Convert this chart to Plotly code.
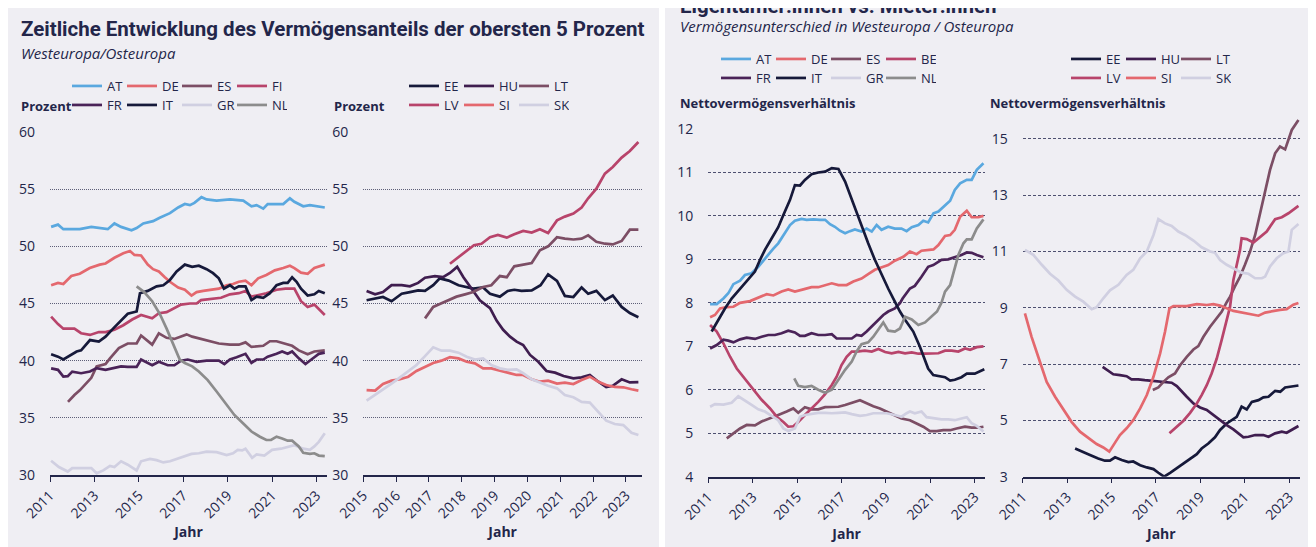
import plotly.graph_objects as go

# page body adds an 8 px margin, so the figure is laid out 8 px up/left of the reference pixels
OFF = 8
W, H = 1316 - OFF, 547 - OFF

# ---------------- data: top 5% wealth share (West, 2011-2023) ----------------
S_AT = [(2011.05,51.7),(2011.36,51.9),(2011.6,51.5),(2012.34,51.5),(2012.86,51.7),(2013.6,51.5),(2013.9,52.0),(2014.2,51.7),(2014.67,51.4),(2014.9,51.6),(2015.2,52.0),(2015.64,52.2),(2015.94,52.5),(2016.4,52.9),(2016.77,53.4),(2017.07,53.7),(2017.3,53.6),(2017.5,53.8),(2017.82,54.3),(2018.05,54.1),(2018.5,54.0),(2019.1,54.1),(2019.7,54.0),(2020.07,53.5),(2020.3,53.6),(2020.6,53.3),(2020.8,53.7),(2021.5,53.7),(2021.8,54.2),(2022.0,53.9),(2022.4,53.5),(2022.7,53.6),(2023.37,53.4)]
S_DE = [(2011.05,46.6),(2011.36,46.8),(2011.6,46.7),(2011.96,47.4),(2012.34,47.6),(2012.79,48.1),(2013.24,48.4),(2013.5,48.5),(2013.9,49.0),(2014.3,49.4),(2014.6,49.6),(2014.8,49.25),(2015.1,49.2),(2015.4,48.4),(2015.64,48.0),(2015.9,47.8),(2016.17,47.3),(2016.4,46.9),(2016.77,46.4),(2017.07,46.2),(2017.37,45.7),(2017.6,46.0),(2017.9,46.1),(2018.34,46.2),(2018.6,46.3),(2018.95,46.6),(2019.24,46.7),(2019.5,46.9),(2019.8,47.0),(2020.07,46.6),(2020.37,47.2),(2020.74,47.5),(2021.12,47.9),(2021.5,48.1),(2021.8,48.3),(2022.0,48.1),(2022.3,47.7),(2022.6,47.6),(2022.9,48.1),(2023.37,48.4)]
S_ES = [(2011.81,36.4),(2012.1,37.0),(2012.34,37.4),(2012.6,38.0),(2012.86,38.5),(2013.1,39.5),(2013.5,39.7),(2013.7,40.2),(2014.1,41.1),(2014.5,41.5),(2014.9,41.5),(2015.1,42.2),(2015.6,41.4),(2015.9,42.4),(2016.25,42.0),(2016.6,41.9),(2016.9,42.1),(2017.15,42.3),(2017.4,42.1),(2018.05,41.8),(2018.6,41.5),(2019.1,41.4),(2019.5,41.4),(2019.8,41.6),(2020.07,41.2),(2020.6,41.3),(2020.9,41.7),(2021.2,41.7),(2021.5,41.5),(2021.9,41.3),(2022.2,40.9),(2022.6,40.56),(2022.9,40.8),(2023.37,40.9)]
S_FI = [(2011.05,43.85),(2011.36,43.2),(2011.6,42.8),(2012.1,42.8),(2012.4,42.4),(2012.8,42.25),(2013.2,42.5),(2013.5,42.5),(2013.9,42.7),(2014.3,43.1),(2014.7,43.6),(2015.1,44.0),(2015.6,43.7),(2015.9,44.15),(2016.25,44.25),(2016.6,44.6),(2016.9,44.9),(2017.3,45.0),(2017.6,45.0),(2017.8,45.3),(2018.34,45.4),(2018.7,45.5),(2019.1,45.8),(2019.5,45.9),(2019.8,46.1),(2020.07,45.6),(2020.74,45.9),(2021.2,46.2),(2021.6,46.3),(2022.0,46.3),(2022.3,45.2),(2022.6,44.7),(2022.9,44.9),(2023.37,44.0)]
S_FR = [(2011.05,39.33),(2011.36,39.2),(2011.6,38.6),(2011.8,38.65),(2012.0,39.04),(2012.4,38.9),(2012.8,39.05),(2013.1,39.35),(2013.5,39.2),(2013.85,39.35),(2014.2,39.5),(2014.5,39.45),(2014.9,39.45),(2015.1,40.1),(2015.6,39.6),(2015.9,39.9),(2016.3,39.6),(2016.6,39.6),(2016.9,40.0),(2017.2,40.1),(2017.6,39.9),(2018.05,40.0),(2018.6,40.0),(2018.85,39.7),(2019.1,40.1),(2019.4,40.3),(2019.8,40.6),(2020.07,39.8),(2020.3,40.1),(2020.6,40.1),(2020.8,40.35),(2021.2,40.6),(2021.45,40.8),(2021.7,40.6),(2021.9,40.8),(2022.2,40.2),(2022.5,39.7),(2022.9,40.3),(2023.1,40.6),(2023.37,40.7)]
S_IT = [(2011.05,40.56),(2011.36,40.35),(2011.6,40.1),(2011.96,40.5),(2012.2,40.8),(2012.4,40.9),(2012.8,41.8),(2013.2,41.66),(2013.5,42.1),(2013.84,42.8),(2014.2,43.56),(2014.5,44.1),(2014.9,44.3),(2015.05,45.9),(2015.4,46.1),(2015.8,46.5),(2016.1,46.6),(2016.4,47.06),(2016.7,47.8),(2017.07,48.4),(2017.4,48.2),(2017.7,48.3),(2018.05,48.0),(2018.34,47.65),(2018.6,47.2),(2018.83,46.3),(2019.1,46.6),(2019.3,46.3),(2019.5,46.5),(2019.8,46.5),(2020.07,45.3),(2020.3,45.6),(2020.6,45.5),(2020.9,45.9),(2021.2,46.6),(2021.5,46.8),(2021.7,46.8),(2021.9,47.3),(2022.1,46.9),(2022.3,46.3),(2022.6,45.7),(2022.9,45.8),(2023.1,46.1),(2023.37,45.9)]
S_GR = [(2011.05,31.25),(2011.4,30.7),(2011.8,30.3),(2012.0,30.6),(2012.86,30.6),(2013.1,30.15),(2013.4,30.4),(2013.7,30.8),(2013.9,30.7),(2014.2,31.2),(2014.5,30.9),(2014.9,30.4),(2015.1,31.2),(2015.5,31.4),(2015.8,31.3),(2016.1,31.1),(2016.4,31.2),(2016.7,31.4),(2017.07,31.6),(2017.37,31.85),(2017.7,31.9),(2018.05,32.05),(2018.5,32.0),(2018.95,31.75),(2019.24,31.9),(2019.45,32.2),(2019.65,32.15),(2019.8,32.3),(2020.1,31.5),(2020.3,31.8),(2020.65,31.7),(2021.0,32.2),(2021.4,32.3),(2021.8,32.5),(2022.0,32.6),(2022.4,32.3),(2022.7,32.2),(2022.9,32.5),(2023.1,32.9),(2023.37,33.65)]
S_NL = [(2014.9,46.5),(2015.24,46.0),(2015.6,45.2),(2015.94,44.1),(2016.25,42.8),(2016.55,41.5),(2016.84,40.1),(2017.07,39.8),(2017.4,39.5),(2017.7,39.05),(2018.1,38.3),(2018.5,37.3),(2018.95,36.1),(2019.3,35.25),(2019.7,34.5),(2020.07,33.8),(2020.45,33.35),(2020.74,33.06),(2020.95,33.06),(2021.2,33.35),(2021.45,33.2),(2021.7,33.0),(2021.9,33.0),(2022.2,32.5),(2022.4,31.95),(2022.7,31.85),(2022.9,31.9),(2023.1,31.7),(2023.37,31.65)]

# ---------------- data: top 5% wealth share (East, 2015-2023) ----------------
S_EE = [(2015.1,45.28),(2015.36,45.4),(2015.6,45.57),(2015.86,45.2),(2016.17,45.86),(2016.42,46.0),(2016.67,46.15),(2016.88,46.1),(2017.13,46.6),(2017.33,47.2),(2017.6,47.0),(2017.9,46.6),(2018.15,46.4),(2018.35,46.3),(2018.65,46.4),(2018.86,45.86),(2019.16,45.6),(2019.4,46.1),(2019.6,46.2),(2019.82,46.1),(2020.13,46.15),(2020.4,46.6),(2020.63,47.55),(2020.9,46.97),(2021.14,45.66),(2021.4,45.57),(2021.65,46.4),(2021.85,45.86),(2022.1,46.1),(2022.36,45.3),(2022.6,45.7),(2022.87,44.7),(2023.12,44.17),(2023.38,43.8)]
S_HU = [(2015.1,46.1),(2015.36,45.8),(2015.6,46.0),(2015.86,46.6),(2016.17,46.6),(2016.42,46.5),(2016.67,46.8),(2016.88,47.26),(2017.18,47.4),(2017.43,47.3),(2017.64,47.67),(2017.86,48.2),(2018.05,47.3),(2018.3,46.3),(2018.55,45.28),(2018.86,44.6),(2019.06,43.5),(2019.26,42.7),(2019.47,42.1),(2019.67,41.66),(2019.87,41.37),(2020.08,40.5),(2020.33,39.9),(2020.58,39.1),(2020.84,38.95),(2021.1,38.66),(2021.4,38.45),(2021.65,38.54),(2021.9,38.75),(2022.16,38.16),(2022.4,37.7),(2022.6,37.8),(2022.87,38.37),(2023.12,38.1),(2023.38,38.13)]
S_LT = [(2016.88,43.7),(2017.13,44.7),(2017.33,44.96),(2017.6,45.3),(2017.84,45.6),(2018.1,45.8),(2018.35,46.0),(2018.65,46.44),(2018.9,46.6),(2019.16,47.4),(2019.37,47.3),(2019.6,48.25),(2019.87,48.4),(2020.13,48.54),(2020.38,49.65),(2020.63,50.0),(2020.9,50.8),(2021.14,50.67),(2021.4,50.6),(2021.65,50.67),(2021.85,50.96),(2022.1,50.4),(2022.36,50.23),(2022.6,50.17),(2022.87,50.47),(2023.12,51.46),(2023.38,51.46)]
S_LV = [(2017.64,48.48),(2017.9,49.07),(2018.15,49.6),(2018.37,50.1),(2018.6,50.23),(2018.86,50.8),(2019.1,51.0),(2019.37,50.76),(2019.6,51.05),(2019.87,51.34),(2020.13,51.2),(2020.38,51.5),(2020.63,51.17),(2020.9,52.27),(2021.14,52.6),(2021.4,52.86),(2021.65,53.4),(2021.85,54.2),(2022.1,55.04),(2022.36,56.36),(2022.6,56.94),(2022.87,57.76),(2023.12,58.34),(2023.38,59.13)]
S_SI = [(2015.1,37.43),(2015.36,37.38),(2015.6,37.96),(2015.86,38.25),(2016.12,38.37),(2016.37,38.6),(2016.62,39.1),(2016.88,39.47),(2017.13,39.8),(2017.38,40.0),(2017.64,40.3),(2017.9,40.2),(2018.15,39.9),(2018.4,39.77),(2018.65,39.33),(2018.9,39.33),(2019.16,39.1),(2019.4,38.95),(2019.67,38.75),(2019.87,38.75),(2020.13,38.37),(2020.38,38.16),(2020.63,38.25),(2020.9,38.0),(2021.14,38.08),(2021.4,37.96),(2021.65,38.3),(2021.9,38.6),(2022.16,38.16),(2022.4,37.87),(2022.66,37.7),(2022.92,37.67),(2023.17,37.5),(2023.38,37.38)]
S_SK = [(2015.1,36.5),(2015.36,37.0),(2015.6,37.5),(2015.86,38.0),(2016.12,38.54),(2016.37,39.04),(2016.62,39.62),(2016.88,40.4),(2017.13,41.17),(2017.38,40.87),(2017.64,40.87),(2017.9,40.7),(2018.15,40.35),(2018.4,40.1),(2018.65,40.2),(2018.9,39.62),(2019.16,39.33),(2019.4,39.2),(2019.67,39.24),(2019.87,38.9),(2020.13,38.37),(2020.38,38.08),(2020.63,37.8),(2020.9,37.58),(2021.14,37.0),(2021.4,36.8),(2021.65,36.4),(2021.9,36.33),(2022.16,35.54),(2022.4,34.75),(2022.66,34.46),(2022.92,34.37),(2023.17,33.7),(2023.38,33.5)]

# ---------------- data: owner / renter net wealth ratio (West) ----------------
R_AT = [(2011.08,7.97),(2011.38,7.97),(2011.68,8.1),(2011.9,8.22),(2012.13,8.43),(2012.43,8.51),(2012.65,8.64),(2012.95,8.68),(2013.25,8.83),(2013.55,9.02),(2013.93,9.25),(2014.15,9.37),(2014.45,9.6),(2014.68,9.79),(2014.9,9.89),(2015.2,9.93),(2015.43,9.91),(2015.73,9.92),(2016.03,9.91),(2016.26,9.91),(2016.48,9.81),(2016.7,9.75),(2016.93,9.66),(2017.16,9.6),(2017.38,9.65),(2017.6,9.69),(2017.9,9.64),(2018.13,9.71),(2018.36,9.64),(2018.58,9.79),(2018.8,9.68),(2019.1,9.75),(2019.4,9.71),(2019.7,9.71),(2019.93,9.65),(2020.16,9.74),(2020.46,9.79),(2020.68,9.89),(2020.9,9.85),(2021.14,10.06),(2021.36,10.1),(2021.66,10.25),(2021.89,10.35),(2022.1,10.6),(2022.34,10.75),(2022.64,10.83),(2022.86,10.83),(2023.09,11.06),(2023.39,11.21)]
R_DE = [(2011.08,7.67),(2011.3,7.72),(2011.53,7.87),(2011.83,7.9),(2012.13,7.91),(2012.43,8.0),(2012.88,8.04),(2013.18,8.1),(2013.63,8.2),(2013.93,8.17),(2014.3,8.26),(2014.6,8.31),(2014.9,8.26),(2015.28,8.31),(2015.65,8.36),(2015.95,8.36),(2016.26,8.41),(2016.56,8.45),(2016.86,8.41),(2017.23,8.41),(2017.53,8.49),(2017.9,8.56),(2018.2,8.66),(2018.5,8.76),(2018.88,8.83),(2019.1,8.87),(2019.4,8.97),(2019.78,9.06),(2020.08,9.18),(2020.38,9.12),(2020.6,9.2),(2020.9,9.22),(2021.14,9.23),(2021.36,9.33),(2021.66,9.54),(2021.89,9.56),(2022.1,9.68),(2022.34,9.98),(2022.64,10.12),(2022.86,9.97),(2023.16,9.97),(2023.39,10.0)]
R_ES = [(2011.83,4.88),(2012.13,5.0),(2012.43,5.11),(2012.73,5.19),(2013.1,5.18),(2013.4,5.27),(2013.78,5.34),(2014.15,5.42),(2014.53,5.5),(2014.83,5.57),(2015.05,5.47),(2015.35,5.6),(2015.65,5.55),(2015.95,5.55),(2016.26,5.6),(2016.56,5.6),(2016.86,5.61),(2017.16,5.65),(2017.46,5.7),(2017.83,5.76),(2018.13,5.69),(2018.43,5.62),(2018.73,5.57),(2019.03,5.5),(2019.4,5.42),(2019.7,5.34),(2020.08,5.3),(2020.38,5.23),(2020.68,5.15),(2020.98,5.05),(2021.28,5.05),(2021.58,5.07),(2021.89,5.07),(2022.18,5.11),(2022.56,5.15),(2022.86,5.13),(2023.16,5.13),(2023.39,5.15)]
R_BE = [(2011.08,7.49),(2011.38,7.34),(2011.68,7.07),(2011.98,6.76),(2012.28,6.49),(2012.65,6.26),(2013.03,6.0),(2013.4,5.77),(2013.78,5.57),(2014.08,5.38),(2014.38,5.26),(2014.6,5.15),(2014.83,5.16),(2015.05,5.26),(2015.35,5.42),(2015.65,5.57),(2015.95,5.72),(2016.26,5.9),(2016.56,6.11),(2016.78,6.3),(2017.0,6.57),(2017.23,6.76),(2017.46,6.88),(2017.68,6.88),(2018.05,6.9),(2018.36,6.88),(2018.66,6.94),(2018.96,6.87),(2019.26,6.84),(2019.56,6.87),(2019.86,6.84),(2020.16,6.86),(2020.46,6.83),(2020.76,6.83),(2021.06,6.83),(2021.36,6.84),(2021.66,6.9),(2021.96,6.9),(2022.26,6.88),(2022.56,6.95),(2022.79,6.92),(2023.09,6.98),(2023.39,7.0)]
R_FR = [(2011.08,6.95),(2011.38,7.03),(2011.68,7.15),(2011.9,7.13),(2012.13,7.09),(2012.43,7.16),(2012.73,7.2),(2013.1,7.17),(2013.4,7.22),(2013.7,7.26),(2014.0,7.26),(2014.3,7.3),(2014.6,7.36),(2014.9,7.32),(2015.13,7.24),(2015.35,7.24),(2015.65,7.3),(2015.95,7.26),(2016.26,7.26),(2016.56,7.28),(2016.78,7.18),(2017.16,7.18),(2017.46,7.18),(2017.68,7.26),(2017.9,7.24),(2018.13,7.34),(2018.36,7.45),(2018.66,7.61),(2018.88,7.72),(2019.1,7.8),(2019.4,7.87),(2019.63,7.99),(2019.75,8.1),(2020.08,8.33),(2020.3,8.39),(2020.6,8.6),(2020.9,8.83),(2021.13,8.87),(2021.5,8.99),(2021.8,9.0),(2022.1,9.05),(2022.4,9.1),(2022.64,9.16),(2022.86,9.15),(2023.09,9.1),(2023.39,9.05)]
R_IT = [(2011.15,7.34),(2011.45,7.61),(2011.75,7.87),(2012.05,8.1),(2012.43,8.33),(2012.8,8.53),(2013.1,8.72),(2013.33,8.99),(2013.55,9.22),(2013.85,9.48),(2014.15,9.74),(2014.38,10.02),(2014.68,10.37),(2014.9,10.71),(2015.13,10.7),(2015.35,10.83),(2015.65,10.96),(2015.95,11.0),(2016.26,11.02),(2016.56,11.1),(2016.86,11.08),(2017.16,10.79),(2017.38,10.48),(2017.6,10.17),(2017.9,9.75),(2018.2,9.37),(2018.5,8.99),(2018.8,8.64),(2019.1,8.33),(2019.4,8.03),(2019.63,7.8),(2019.86,7.61),(2020.23,7.34),(2020.53,6.99),(2020.9,6.49),(2021.13,6.34),(2021.36,6.32),(2021.66,6.29),(2021.89,6.21),(2022.1,6.23),(2022.4,6.29),(2022.64,6.37),(2023.0,6.37),(2023.24,6.42),(2023.43,6.47)]
R_GR = [(2011.08,5.61),(2011.3,5.67),(2011.68,5.66),(2012.05,5.7),(2012.35,5.85),(2012.65,5.76),(2012.95,5.65),(2013.25,5.55),(2013.55,5.5),(2013.85,5.4),(2014.15,5.3),(2014.38,5.11),(2014.6,5.05),(2014.9,5.11),(2015.13,5.38),(2015.35,5.42),(2015.65,5.44),(2015.95,5.47),(2016.26,5.47),(2016.56,5.46),(2016.86,5.47),(2017.16,5.48),(2017.46,5.44),(2017.83,5.4),(2018.13,5.42),(2018.43,5.46),(2018.73,5.46),(2019.03,5.46),(2019.4,5.42),(2019.7,5.38),(2019.93,5.46),(2020.08,5.5),(2020.3,5.46),(2020.6,5.5),(2020.83,5.37),(2021.13,5.34),(2021.5,5.32),(2021.8,5.32),(2022.1,5.3),(2022.4,5.34),(2022.64,5.37),(2022.86,5.23),(2023.09,5.17),(2023.39,5.04)]
R_NL = [(2014.87,6.26),(2015.05,6.09),(2015.35,6.06),(2015.65,6.09),(2015.95,6.0),(2016.26,5.93),(2016.56,6.0),(2016.86,6.23),(2017.16,6.46),(2017.46,6.65),(2017.68,6.88),(2017.9,7.05),(2018.2,7.09),(2018.43,7.22),(2018.66,7.39),(2018.88,7.55),(2019.1,7.36),(2019.4,7.34),(2019.63,7.41),(2019.86,7.68),(2020.16,7.62),(2020.46,7.49),(2020.76,7.55),(2021.06,7.68),(2021.3,7.8),(2021.5,8.0),(2021.66,8.26),(2021.89,8.41),(2022.1,8.83),(2022.26,9.1),(2022.49,9.37),(2022.64,9.46),(2022.86,9.46),(2023.09,9.71),(2023.39,9.92)]

# ---------------- data: owner / renter net wealth ratio (East) ----------------
R_EE = [(2013.36,4.0),(2013.66,3.89),(2014.03,3.77),(2014.4,3.65),(2014.7,3.57),(2014.93,3.57),(2015.16,3.69),(2015.46,3.59),(2015.76,3.52),(2015.98,3.54),(2016.29,3.41),(2016.59,3.33),(2016.89,3.27),(2017.11,3.14),(2017.37,3.0),(2017.64,3.14),(2017.94,3.3),(2018.24,3.47),(2018.54,3.62),(2018.84,3.8),(2019.06,4.0),(2019.36,4.18),(2019.66,4.4),(2019.89,4.66),(2020.19,4.89),(2020.49,5.04),(2020.64,5.13),(2020.86,5.49),(2021.09,5.39),(2021.32,5.66),(2021.62,5.72),(2021.84,5.82),(2022.07,5.84),(2022.37,6.05),(2022.6,6.02),(2022.82,6.17),(2023.12,6.2),(2023.42,6.24)]
R_HU = [(2014.6,6.9),(2014.86,6.76),(2015.08,6.64),(2015.38,6.61),(2015.68,6.57),(2015.9,6.46),(2016.2,6.46),(2016.5,6.43),(2016.8,6.41),(2017.11,6.37),(2017.41,6.37),(2017.71,6.34),(2017.94,6.22),(2018.16,6.02),(2018.39,5.84),(2018.69,5.6),(2018.99,5.46),(2019.29,5.37),(2019.59,5.19),(2019.89,4.99),(2020.19,4.83),(2020.49,4.68),(2020.71,4.54),(2020.94,4.4),(2021.17,4.42),(2021.47,4.48),(2021.84,4.48),(2022.07,4.42),(2022.37,4.54),(2022.67,4.6),(2022.89,4.56),(2023.12,4.66),(2023.42,4.8)]
R_LT = [(2016.86,6.08),(2017.11,6.17),(2017.34,6.37),(2017.56,6.53),(2017.86,6.67),(2018.09,6.96),(2018.39,7.26),(2018.69,7.52),(2018.91,7.64),(2019.14,7.97),(2019.44,8.33),(2019.74,8.66),(2019.96,8.86),(2020.19,9.2),(2020.34,9.4),(2020.56,9.76),(2020.79,10.11),(2021.01,10.53),(2021.24,11.0),(2021.47,11.59),(2021.69,12.36),(2021.92,13.07),(2022.14,13.9),(2022.37,14.49),(2022.59,14.73),(2022.82,14.63),(2023.12,15.32),(2023.42,15.67)]
R_LV = [(2017.61,4.54),(2017.94,4.78),(2018.24,4.99),(2018.54,5.27),(2018.84,5.6),(2019.06,5.9),(2019.29,6.25),(2019.51,6.67),(2019.74,7.2),(2019.96,7.85),(2020.19,8.56),(2020.34,9.04),(2020.49,9.99),(2020.64,10.47),(2020.79,11.06),(2020.86,11.47),(2021.09,11.44),(2021.39,11.32),(2021.69,11.51),(2021.99,11.71),(2022.37,12.15),(2022.67,12.22),(2022.97,12.36),(2023.42,12.62)]
R_SI = [(2011.1,8.8),(2011.4,7.97),(2011.7,7.26),(2012.08,6.37),(2012.46,5.84),(2012.83,5.37),(2013.2,4.95),(2013.58,4.6),(2013.96,4.36),(2014.33,4.16),(2014.63,4.04),(2014.9,3.89),(2015.16,4.21),(2015.38,4.48),(2015.68,4.72),(2015.98,5.01),(2016.29,5.43),(2016.59,5.9),(2016.89,6.55),(2017.19,7.38),(2017.41,8.15),(2017.61,8.98),(2017.79,9.06),(2018.39,9.06),(2018.84,9.13),(2019.29,9.1),(2019.59,9.13),(2019.89,9.08),(2020.49,8.89),(2020.86,8.83),(2021.24,8.79),(2021.62,8.72),(2021.92,8.83),(2022.29,8.9),(2022.59,8.93),(2022.89,8.95),(2023.19,9.11),(2023.42,9.17)]
R_SK = [(2011.1,11.06),(2011.48,10.88),(2011.86,10.53),(2012.23,10.21),(2012.61,9.97),(2012.98,9.64),(2013.36,9.4),(2013.73,9.22),(2014.11,8.95),(2014.33,9.02),(2014.63,9.34),(2014.93,9.62),(2015.31,9.82),(2015.68,10.17),(2015.98,10.35),(2016.29,10.76),(2016.59,11.0),(2016.89,11.59),(2017.11,12.15),(2017.41,12.0),(2017.71,11.91),(2018.01,11.71),(2018.31,11.59),(2018.69,11.39),(2019.06,11.15),(2019.44,11.0),(2019.66,10.96),(2019.89,10.7),(2020.19,10.53),(2020.49,10.41),(2020.86,10.25),(2021.17,10.21),(2021.47,10.05),(2021.77,10.05),(2021.92,10.11),(2022.14,10.47),(2022.44,10.76),(2022.74,10.94),(2022.97,11.0),(2023.12,11.77),(2023.42,11.98)]

# ---------------- labels / ticks ----------------
TICKS_Y1 = [30, 35, 40, 45, 50, 55, 60]
TICKS_Y3 = [4, 5, 6, 7, 8, 9, 10, 11, 12]
TICKS_Y4 = [3, 5, 7, 9, 11, 13, 15]
TICKS_X_ODD = [2011, 2013, 2015, 2017, 2019, 2021, 2023]
TICKS_X_ALL = [2015, 2016, 2017, 2018, 2019, 2020, 2021, 2022, 2023]

# ---------------- styling ----------------
C = {
    "AT": "#5aa8df", "DE": "#e4686e", "ES": "#7c4e65", "FI": "#b8446b", "BE": "#b8446b",
    "FR": "#4a2358", "IT": "#16193a", "GR": "#d0cfe1", "NL": "#8c8c8c",
    "EE": "#16193a", "HU": "#3f1d4f", "LT": "#7c4e65", "LV": "#b8446b", "SI": "#e4686e", "SK": "#d0cfe1",
}
INK = "#23264a"
PANEL = "#efeef3"
FONT = "Open Sans"
TFONT = "Roboto"


def px_x(p):
    return (p - OFF) / W


def px_y(p):
    return 1 - (p - OFF) / H


fig = go.Figure()

groups = [
    ("x", "y", "legend", [("AT", S_AT), ("DE", S_DE), ("ES", S_ES), ("FI", S_FI)]),
    ("x", "y", "legend2", [("FR", S_FR), ("IT", S_IT), ("GR", S_GR), ("NL", S_NL)]),
    ("x2", "y2", "legend3", [("EE", S_EE), ("HU", S_HU), ("LT", S_LT)]),
    ("x2", "y2", "legend4", [("LV", S_LV), ("SI", S_SI), ("SK", S_SK)]),
    ("x3", "y3", "legend5", [("AT", R_AT), ("DE", R_DE), ("ES", R_ES), ("BE", R_BE)]),
    ("x3", "y3", "legend6", [("FR", R_FR), ("IT", R_IT), ("GR", R_GR), ("NL", R_NL)]),
    ("x4", "y4", "legend7", [("EE", R_EE), ("HU", R_HU), ("LT", R_LT)]),
    ("x4", "y4", "legend8", [("LV", R_LV), ("SI", R_SI), ("SK", R_SK)]),
]
for xa, ya, lg, series in groups:
    for name, pts in series:
        xs = [p[0] for p in pts]
        ys = [p[1] for p in pts]
        fig.add_trace(go.Scatter(x=xs, y=ys, mode="lines", name=name, xaxis=xa, yaxis=ya,
                                 legend=lg, line=dict(color=C[name], width=2.7),
                                 hoverinfo="x+y+name"))

# ---------------- axes ----------------
def xaxis(dom, rng, ticks, anchor):
    return dict(domain=[px_x(dom[0]), px_x(dom[1])], range=rng, tickvals=ticks, anchor=anchor,
                tickangle=-45, showgrid=False, zeroline=False, showline=True,
                linecolor=INK, linewidth=1.5, ticks="outside", ticklen=5, tickwidth=1.2,
                tickcolor=INK, tickfont=dict(family=FONT, size=14, color=INK),
                title=dict(text="Jahr", font=dict(family=FONT, size=14, color=INK, weight="bold"),
                           standoff=6),
                automargin=False, fixedrange=True)


def yaxis(dom, rng, ticks, dash, gcolor, anchor):
    return dict(domain=[px_y(dom[1]), px_y(dom[0])], range=rng, tickvals=ticks, anchor=anchor,
                showgrid=True, gridcolor=gcolor, griddash=dash, gridwidth=1,
                zeroline=False, showline=False, ticks="", ticklabelstandoff=14,
                tickfont=dict(family=FONT, size=14, color=INK),
                automargin=False, fixedrange=True)


fig.update_layout(
    xaxis=xaxis((50, 327), [2011, 2023.47], TICKS_X_ODD, "y"),
    yaxis=yaxis((132, 475), [30, 60], TICKS_Y1, "1px,1px", "#5e5f78", "x"),
    xaxis2=xaxis((363.3, 642), [2015, 2023.49], TICKS_X_ALL, "y2"),
    yaxis2=yaxis((132, 475), [30, 60], TICKS_Y1, "1px,1px", "#5e5f78", "x2"),
    xaxis3=xaxis((708.3, 985), [2011, 2023.46], TICKS_X_ODD, "y3"),
    yaxis3=yaxis((129, 476.7), [4, 12], TICKS_Y3, "3px,2px", "#4e5070", "x3"),
    xaxis4=xaxis((1022.7, 1300), [2011, 2023.49], TICKS_X_ODD, "y4"),
    yaxis4=yaxis((117, 476.7), [3, 15.78], TICKS_Y4, "3px,2px", "#4e5070", "x4"),
)

# ---------------- legends ----------------
def legend(xp, yp):
    return dict(orientation="h", x=px_x(xp), y=px_y(yp), xanchor="left", yanchor="middle",
                bgcolor="rgba(0,0,0,0)", borderwidth=0, itemwidth=30,
                entrywidth=10, entrywidthmode="pixels", tracegroupgap=0,
                font=dict(family=FONT, size=13, color=INK), itemclick=False, itemdoubleclick=False)


fig.update_layout(
    legend=legend(67, 86), legend2=legend(67, 105),
    legend3=legend(404, 86), legend4=legend(404, 105),
    legend5=legend(716, 59), legend6=legend(716, 78),
    legend7=legend(1066, 59), legend8=legend(1066, 78),
)

# ---------------- panels and text ----------------
fig.add_shape(type="rect", xref="paper", yref="paper", x0=px_x(5), x1=px_x(659),
              y0=0, y1=1, fillcolor=PANEL, line_width=0, layer="below")
fig.add_shape(type="rect", xref="paper", yref="paper", x0=px_x(665), x1=1,
              y0=0, y1=1, fillcolor=PANEL, line_width=0, layer="below")


def text(t, xp, yp, size, bold=False, italic=False, family=FONT, anchor="middle"):
    return dict(text=t, x=px_x(xp), y=px_y(yp), xref="paper", yref="paper", showarrow=False,
                xanchor="left", yanchor=anchor,
                font=dict(family=family, size=size, color=INK,
                          weight="bold" if bold else "normal",
                          style="italic" if italic else "normal"))


fig.update_layout(annotations=[
    text("Zeitliche Entwicklung des Vermögensanteils der obersten 5 Prozent", 19, 29, 20.5, bold=True, family=TFONT),
    text("Westeuropa/Osteuropa", 19, 53, 15, italic=True),
    text("Prozent", 19, 106, 13, bold=True),
    text("Prozent", 332, 106, 13, bold=True),
    text("Eigentümer:innen vs. Mieter:innen", 678, 6, 20.5, bold=True, family=TFONT),
    text("Vermögensunterschied in Westeuropa / Osteuropa", 678, 26, 15, italic=True),
    text("Nettovermögensverhältnis", 678, 103, 13, bold=True),
    text("Nettovermögensverhältnis", 988, 103, 13, bold=True),
])

fig.update_layout(width=W, height=H, margin=dict(l=0, r=0, t=0, b=0, autoexpand=False),
                  paper_bgcolor="white", plot_bgcolor="rgba(0,0,0,0)",
                  font=dict(family=FONT, color=INK), hovermode="closest")

fig.write_html("out.html")
